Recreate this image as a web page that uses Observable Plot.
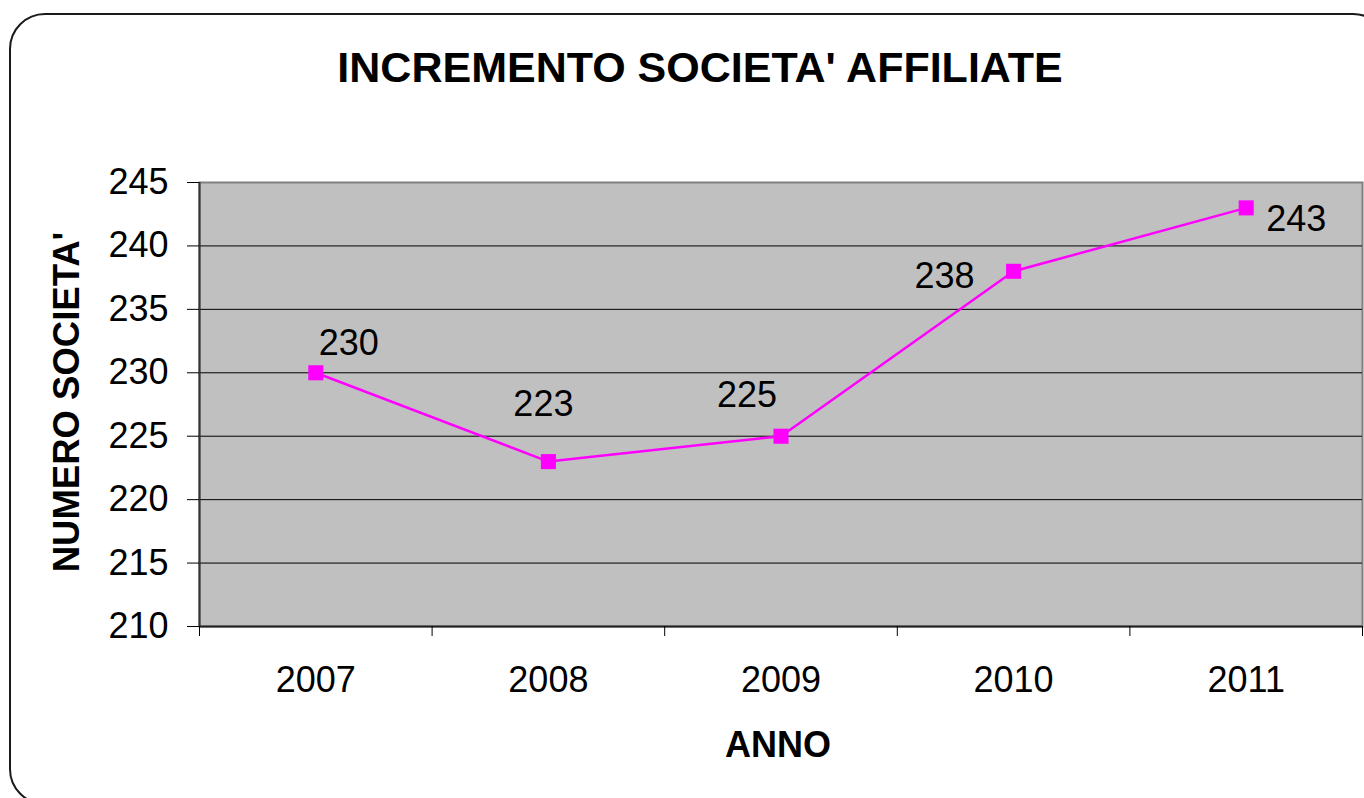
<!DOCTYPE html>
<html>
<head>
<meta charset="utf-8">
<script src="https://cdn.jsdelivr.net/npm/d3@7"></script>
<script src="https://cdn.jsdelivr.net/npm/@observablehq/plot@0.6"></script>
<style>
  html, body { margin: 0; padding: 0; background: #fff; }
  #wrap { position: relative; width: 1364px; height: 798px; overflow: hidden; font-family: "Liberation Sans", Arial, sans-serif; }
  #border { position: absolute; left: 9px; top: 13px; width: 1380px; height: 792px; border: 2px solid #1a1a1a; border-radius: 36px; box-sizing: border-box; }
  #chart { position: absolute; left: 0; top: 0; }
  .lbl { position: absolute; font-weight: bold; color: #000; white-space: nowrap; line-height: 1; }
  #title { left: 0; width: 1400px; text-align: center; top: 46px; font-size: 43px; }
  #ytitle { font-size: 36.5px; left: 67px; top: 402px; transform: translate(-50%, -50%) rotate(-90deg); }
  #xtitle { font-size: 36px; left: 778px; top: 745px; transform: translate(-50%, -50%); }
</style>
</head>
<body>
<div id="wrap">
  <div id="border"></div>
  <div id="chart"></div>
  <div class="lbl" id="title">INCREMENTO SOCIETA' AFFILIATE</div>
  <div class="lbl" id="ytitle">NUMERO SOCIETA'</div>
  <div class="lbl" id="xtitle">ANNO</div>
</div>
<script>
const years = [2007, 2008, 2009, 2010, 2011];
const societies = [230, 223, 225, 238, 243];
const yTicks = [210, 215, 220, 225, 230, 235, 240, 245];

const rows = years.map((y, i) => ({year: y, value: societies[i]}));
const bounds = [...years.map(y => y - 0.5), years[years.length - 1] + 0.5];
const nudges = [[33, -29], [-5, -57], [-34, -41], [-69, 5], [50, 12]];
const font = '"Liberation Sans", Arial, sans-serif';

const labelMarks = rows.map((r, i) =>
  Plot.text([r], {x: "year", y: "value", text: d => String(d.value),
    dx: nudges[i][0], dy: nudges[i][1], fontSize: 36, fill: "#000"}));

const chart = Plot.plot({
  width: 1364,
  height: 798,
  marginLeft: 199,
  marginRight: 2,
  marginTop: 182,
  marginBottom: 172,
  style: {fontFamily: font, background: "transparent", overflow: "visible"},
  x: {domain: [bounds[0], bounds[bounds.length - 1]]},
  y: {domain: [210, 245]},
  marks: [
    Plot.frame({fill: "#C0C0C0", stroke: "#808080", strokeWidth: 2}),
    Plot.gridY(yTicks.slice(1, -1), {stroke: "#000", strokeOpacity: 1, strokeWidth: 1}),
    Plot.ruleY([210], {stroke: "#222", strokeWidth: 2}),
    Plot.ruleX([bounds[0]], {stroke: "#333", strokeWidth: 2}),
    Plot.axisY(yTicks, {tickSize: 12, tickPadding: 19, fontSize: 36, label: null, stroke: "#000", fill: "#000"}),
    Plot.axisX(bounds, {tickSize: 10, tickFormat: () => "", label: null, stroke: "#000"}),
    Plot.axisX(years, {tickSize: 0, tickPadding: 40, fontSize: 36, tickFormat: d => String(d), label: null, fill: "#000"}),
    Plot.line(rows, {x: "year", y: "value", stroke: "#FF00FF", strokeWidth: 2.5}),
    Plot.dot(rows, {x: "year", y: "value", symbol: "square", r: 8.5, fill: "#FF00FF", stroke: "none"}),
    ...labelMarks
  ]
});
document.getElementById("chart").appendChild(chart);
</script>
</body>
</html>
